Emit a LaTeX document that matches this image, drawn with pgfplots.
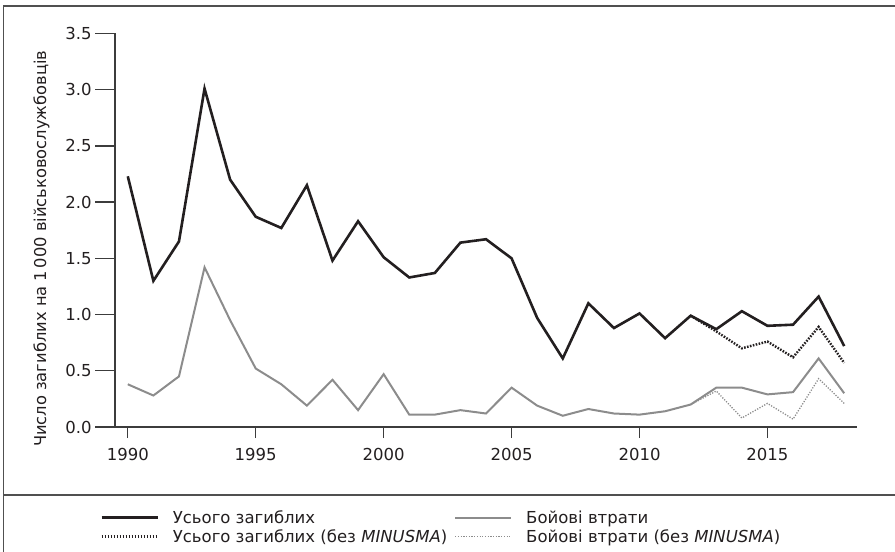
\documentclass[border=0pt]{standalone}
\usepackage{pgfplots}
\usepackage{pgfplotstable}
\pgfplotsset{compat=1.18}
\usepackage{fontspec}
\setmainfont{DejaVu Sans}

\definecolor{ink}{HTML}{231F20}
\definecolor{greyline}{HTML}{8C8C8C}
\definecolor{framecol}{HTML}{505050}
\definecolor{axiscol}{HTML}{3C3C3C}

% Deaths per 1 000 peacekeepers
\pgfplotstableread{
year total totalnoM combat combatnoM
1990 2.23 nan  0.38 nan
1991 1.30 nan  0.28 nan
1992 1.65 nan  0.45 nan
1993 3.01 nan  1.42 nan
1994 2.20 nan  0.95 nan
1995 1.87 nan  0.52 nan
1996 1.77 nan  0.38 nan
1997 2.15 nan  0.19 nan
1998 1.48 nan  0.42 nan
1999 1.83 nan  0.15 nan
2000 1.51 nan  0.47 nan
2001 1.33 nan  0.11 nan
2002 1.37 nan  0.11 nan
2003 1.64 nan  0.15 nan
2004 1.67 nan  0.12 nan
2005 1.50 nan  0.35 nan
2006 0.97 nan  0.19 nan
2007 0.61 nan  0.10 nan
2008 1.10 nan  0.16 nan
2009 0.88 nan  0.12 nan
2010 1.01 nan  0.11 nan
2011 0.79 nan  0.14 nan
2012 0.99 0.99 0.20 0.20
2013 0.87 0.85 0.35 0.32
2014 1.03 0.70 0.35 0.08
2015 0.90 0.76 0.29 0.21
2016 0.91 0.62 0.31 0.07
2017 1.16 0.89 0.61 0.43
2018 0.72 0.57 0.30 0.21
}\deaths

\newcommand{\tickfont}{\fontsize{16.5bp}{20bp}\selectfont}

\pgfplotsset{
  panel/.style={
    scale only axis,
    width=742bp, height=393.5bp,
    at={(115bp,125bp)}, anchor=south west,
    xmin=1989.5, xmax=2018.5, ymin=0, ymax=3.5,
    axis line style={axiscol, line width=1.3bp, -},
    tick style={axiscol, line width=1.3bp},
    tick align=outside,
    /pgf/number format/assume math mode=true,
    ticklabel style={font=\tickfont, text=ink},
  },
}

\begin{document}
\begin{tikzpicture}
\useasboundingbox (0,0) rectangle (895bp,552bp);

% outer frame and legend separator
\draw[framecol, line width=1.6bp] (3.5bp,-5bp) rectangle (899bp,546bp);
\draw[framecol, line width=1.6bp] (3.5bp,57bp) -- (899bp,57bp);

% y axis with its ticks
\begin{axis}[panel,
  axis y line*=left, hide x axis,
  major tick length=20bp,
  ytick={0,0.5,...,3.5},
  yticklabel style={/pgf/number format/.cd, fixed, fixed zerofill, precision=1},
  ylabel={Число загиблих на 1\,000 військовослужбовців},
  every axis y label/.style={at={(axis description cs:-0.099,0.453)}, rotate=90, anchor=center,
    font=\fontsize{16.3bp}{19bp}\selectfont, text=ink},
]
\addplot[draw=none] coordinates {(1990,0)};
\end{axis}

% x axis, series and legend
\begin{axis}[panel,
  axis x line*=bottom, hide y axis,
  major tick length=11bp,
  xtick={1990,1995,...,2015},
  xticklabel style={/pgf/number format/1000 sep={}, yshift=-7bp},
  legend columns=2, transpose legend,
  legend cell align=left,
  legend image code/.code={\draw[#1] (0bp,0bp) -- (56bp,0bp);},
  legend style={draw=none, fill=none, inner sep=0pt,
    at={(axis description cs:-0.0202,-0.254)}, anchor=west,
    font=\fontsize{16.5bp}{20bp}\selectfont, text=ink,
    nodes={inner ysep=1bp, inner xsep=0bp},
    row sep=2.5bp,
    /tikz/every odd column/.append style={column sep=14bp},
    /tikz/every even column/.append style={column sep=7bp}},
]
\addplot[ink, line width=2.6bp, line join=miter] table[x=year, y=total] {\deaths};
\addlegendentry{Усього загиблих}
\addplot[ink, line width=2.4bp, dash pattern=on 1.6bp off 1.4bp] table[x=year, y=totalnoM] {\deaths};
\addlegendentry{Усього загиблих (без \textit{MINUSMA})}
\addplot[greyline, line width=2bp, line join=miter] table[x=year, y=combat] {\deaths};
\addlegendentry{Бойові втрати}
\addplot[greyline, line width=1.3bp, dash pattern=on 1.2bp off 1.5bp] table[x=year, y=combatnoM] {\deaths};
\addlegendentry{Бойові втрати (без \textit{MINUSMA})}
\end{axis}
\end{tikzpicture}
\end{document}
